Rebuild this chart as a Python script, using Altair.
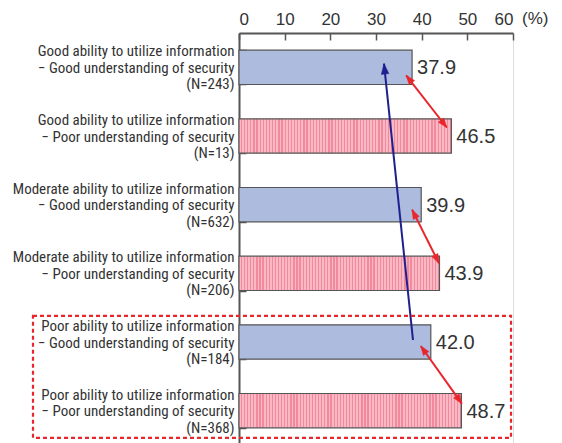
import math
import altair as alt
import pandas as pd

# ---------------- data ----------------
categories = [
    "Good ability to utilize information\n\u2212 Good understanding of security\n(N=243)",
    "Good ability to utilize information\n\u2212 Poor understanding of security\n(N=13)",
    "Moderate ability to utilize information\n\u2212 Good understanding of security\n(N=632)",
    "Moderate ability to utilize information\n\u2212 Poor understanding of security\n(N=206)",
    "Poor ability to utilize information\n\u2212 Good understanding of security\n(N=184)",
    "Poor ability to utilize information\n\u2212 Poor understanding of security\n(N=368)",
]
values = [37.9, 46.5, 39.9, 43.9, 42.0, 48.7]
security = ["Good", "Poor", "Good", "Poor", "Good", "Poor"]
x_ticks = [0, 10, 20, 30, 40, 50, 60]

# arrows: (from row, x value, px offset in row) -> (to row, x value, px offset)
red_arrows = [
    (0, 36.6, 8, 1, 45.5, -8.5),
    (2, 37.9, 5, 3, 43.8, -10),
    (4, 39.8, 4, 5, 48.8, -7),
]
blue_arrow = (4, 38.1, -2, 0, 31.75, -3.7)

# ---------------- layout ----------------
W, H = 274, 412
PX = W / 60.0
STEP = H / 6.0
LABEL_FONT = "Roboto Condensed"

df = pd.DataFrame({"cat": categories, "value": values, "sec": security})

x_scale = alt.Scale(domain=[0, 60], nice=False, zero=True)
y_scale = alt.Scale(domain=categories, paddingInner=0.5, paddingOuter=0.25)

X = alt.X("value:Q", scale=x_scale,
          axis=alt.Axis(orient="top", values=x_ticks, title=None, ticks=False,
                        labelFontSize=17, labelFont="Liberation Sans",
                        labelColor="#333", labelPadding=5,
                        domainColor="#555", domainWidth=2,
                        grid=True, gridColor="#555", gridWidth=1.5,
                        gridDash=[7, 2000]))
Y = alt.Y("cat:N", scale=y_scale, sort=categories,
          axis=alt.Axis(title=None, ticks=False, tickBand="extent",
                        labelExpr="split(datum.label, '\\n')",
                        labelFont=LABEL_FONT, labelFontSize=15,
                        labelLineHeight=16.5, labelColor="#333",
                        labelPadding=5, labelLimit=0, labelOffset=-16.5,
                        domainColor="#555", domainWidth=2,
                        grid=True, gridColor="#555", gridWidth=1.5,
                        gridDash=[7, 2000]))

base = alt.Chart(df)

good_bars = base.transform_filter("datum.sec == 'Good'").mark_bar(
    fill="#adbbdf", stroke="#555", strokeWidth=1.2
).encode(x=X, y=Y)

LIGHT, DARK = "#fab8c4", "#f28a9d"

def stripe_gradient(val):
    n = max(1, round(val * PX / 3.1))
    stops = []
    for k in range(n):
        a, m, b = k / n, (k + 0.6) / n, (k + 1) / n
        stops += [alt.GradientStop(offset=a, color=LIGHT),
                  alt.GradientStop(offset=m, color=LIGHT),
                  alt.GradientStop(offset=m, color=DARK),
                  alt.GradientStop(offset=b, color=DARK)]
    return alt.Gradient(gradient="linear", stops=stops, x1=0, x2=1, y1=0, y2=0)

poor_layers = []
for c, v, s in zip(categories, values, security):
    if s != "Poor":
        continue
    poor_layers.append(
        alt.Chart(df[df["cat"] == c]).mark_bar(
            fill=stripe_gradient(v), stroke="#555", strokeWidth=1.2
        ).encode(x=X, y=Y)
    )

value_text = base.mark_text(
    align="left", baseline="middle", dx=5, dy=1, fontSize=20,
    font="Liberation Sans", color="#333"
).encode(x="value:Q", y=alt.Y("cat:N", sort=categories), text=alt.Text("value:Q", format=".1f"))

pct_text = alt.Chart(pd.DataFrame({"v": [60], "t": ["(%)"]})).mark_text(
    align="left", baseline="bottom", dx=9, fontSize=17, font="Liberation Sans", color="#333"
).encode(x="v:Q", y=alt.value(-5), text="t:N")

# arrows
def arrow_frames(arrows, both):
    lines, heads = [], []
    for (r1, x1, o1, r2, x2, o2) in arrows:
        dx = (x2 - x1) * PX
        dy = (r2 - r1) * STEP + (o2 - o1)
        ang = math.degrees(math.atan2(dx, -dy)) % 360
        lines.append({"c1": categories[r1], "x1": x1, "o1": o1,
                      "c2": categories[r2], "x2": x2, "o2": o2})
        heads.append({"c": categories[r2], "x": x2, "o": o2, "a": ang})
        if both:
            heads.append({"c": categories[r1], "x": x1, "o": o1, "a": (ang + 180) % 360})
    return lines, heads

HEAD = "M0,0L0.62,1.7L-0.62,1.7Z"

def arrow_layers(arrows, both, color, size):
    lines, heads = arrow_frames(arrows, both)
    layers = []
    for r in lines:
        layers.append(alt.Chart(pd.DataFrame([r])).mark_rule(
            color=color, strokeWidth=2,
            yOffset=float(r["o1"]), y2Offset=float(r["o2"])).encode(
            x=alt.X("x1:Q"), x2="x2:Q",
            y=alt.Y("c1:N", sort=categories), y2="c2:N"))
    for r in heads:
        layers.append(alt.Chart(pd.DataFrame([r])).mark_point(
            shape=HEAD, filled=True, fill=color, stroke=color, strokeWidth=0.5,
            opacity=1, size=size, angle=float(r["a"]), yOffset=float(r["o"])).encode(
            x="x:Q", y=alt.Y("c:N", sort=categories)))
    return layers

red_layers = arrow_layers(red_arrows, True, "#e8262b", 120)
blue_layers = arrow_layers([blue_arrow], False, "#1f1f8f", 150)

box_df = pd.DataFrame({"top": [categories[4]], "bot": [categories[5]]})
box = alt.Chart(box_df).mark_rect(
    filled=False, stroke="#e8262b", strokeWidth=2.2, strokeDash=[4, 3],
    yOffset=-9, y2Offset=10,
).encode(
    x=alt.value(-206), x2=alt.value(272),
    y=alt.Y("top:N", sort=categories, bandPosition=0), y2=alt.Y2("bot:N", bandPosition=1),
)

chart = alt.layer(
    good_bars, *poor_layers, *blue_layers, *red_layers, value_text, pct_text, box
).resolve_scale(x="shared", y="shared").properties(
    width=W, height=H, autosize="none",
    padding={"left": 231, "top": 25, "right": 41, "bottom": 0},
).configure_view(stroke="#666", strokeWidth=2).configure(background="white")

chart.save("out.html", embed_options={"renderer": "svg", "actions": False})
